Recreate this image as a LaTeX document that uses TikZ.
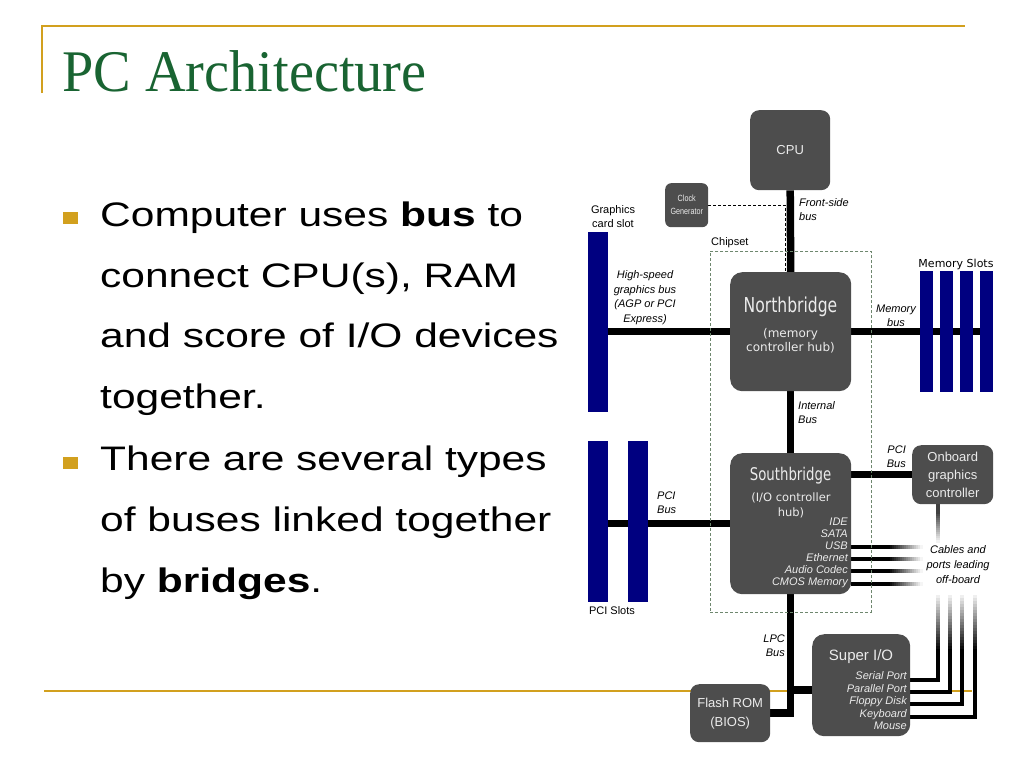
\documentclass[tikz,border=0pt]{standalone}
\usepackage{fontspec}
\setmainfont{Liberation Sans}
\newfontfamily\titlefont{Liberation Serif}[FakeStretch=0.955]
\newfontfamily\bodyfont{Liberation Sans}[FakeStretch=1.25]
\newfontfamily\bridgefont{DejaVu Sans}[FakeStretch=0.76]
\newfontfamily\vera{DejaVu Sans}
\newfontfamily\narrowfont{Liberation Sans}[FakeStretch=0.8]
\usetikzlibrary{positioning,calc,backgrounds}
\definecolor{boxgray}{RGB}{77,77,77}
\definecolor{slotblue}{RGB}{0,0,128}
\definecolor{slidegold}{RGB}{210,160,30}
\definecolor{titlegreen}{RGB}{25,100,50}
\definecolor{chipgreen}{RGB}{110,135,110}

\begin{document}
\begin{tikzpicture}[x=1pt, y=-1pt,
  box/.style={fill=boxgray, rounded corners=9pt, text=white!92!black, inner sep=0pt, anchor=north west, align=center},
  slot/.style={fill=slotblue, inner sep=0pt, anchor=north west},
  bus/.style={line width=7.5pt},
  wire/.style={line width=4pt},
  lbl/.style={font=\fontsize{11}{14}\selectfont\itshape, inner sep=0pt},
  txt/.style={font=\fontsize{11}{14}\selectfont, inner sep=0pt},
  boxtxt/.style={text=white!92!black, inner sep=0pt},
  bodyline/.style={font=\bodyfont\fontsize{34}{40}\selectfont, anchor=base west, inner sep=0pt},
  bullet/.style={fill=slidegold, minimum width=15pt, minimum height=12pt, inner sep=0pt}]
\useasboundingbox (0,0) rectangle (1024,768);

% slide title and text
\node[font=\titlefont\fontsize{59}{60}\selectfont, text=titlegreen, anchor=base west, inner sep=0pt] (title) at (62,91) {PC Architecture};
\node[bullet] (b1) at (70.5,217.5) {};
\node[bullet] (b2) at (70.5,462.5) {};
\node[bodyline] (l1) at (100,226) {Computer uses \textbf{bus} to};
\node[bodyline] (l2) at (100,287) {connect CPU(s), RAM};
\node[bodyline] (l3) at (100,347) {and score of I/O devices};
\node[bodyline] (l4) at (100,408) {together.};
\node[bodyline] (l5) at (100,470) {There are several types};
\node[bodyline] (l6) at (100,531) {of buses linked together};
\node[bodyline] (l7) at (100,592) {by \textbf{bridges}.};

% chips
\node[box, minimum width=80pt, minimum height=80pt, font=\fontsize{13}{15}\selectfont] (cpu) at (750,110) {CPU};
\node[box, rounded corners=6pt, minimum width=43pt, minimum height=44pt, font=\narrowfont\fontsize{9}{13}\selectfont] (clk) at (665,183) {Clock\\Generator};
\node[draw=chipgreen, dash pattern=on 3pt off 2pt, line width=0.8pt, anchor=north west, minimum width=161pt, minimum height=361pt, inner sep=0pt] (chipset) at (710,251) {};
\node[txt, anchor=base west] (chipsetlbl) at (711,245) {Chipset};

\node[box, rounded corners=12pt, minimum width=121pt, minimum height=119pt] (nb) at (730,272) {};
\node[boxtxt, font=\bridgefont\fontsize{20.5}{22}\selectfont, anchor=base] (nbname) at (790.5,312) {Northbridge};
\node[boxtxt, font=\vera\fontsize{12}{14}\selectfont, align=center] (nbsub) at (790.5,341) {(memory\\controller hub)};

\node[box, rounded corners=12pt, minimum width=121pt, minimum height=141pt] (sb) at (730,453) {};
\node[boxtxt, font=\bridgefont\fontsize{17.5}{20}\selectfont, anchor=base] (sbname) at (790.5,480) {Southbridge};
\node[boxtxt, font=\vera\fontsize{11.5}{15}\selectfont, align=center] (sbsub) at (791,505) {(I/O controller\\hub)};
\node[boxtxt, font=\fontsize{11}{12}\selectfont\itshape, align=right, anchor=east] (sbports) at (848,553) {IDE\\SATA\\USB\\Ethernet\\Audio Codec\\CMOS Memory};

\node[box, minimum width=81pt, minimum height=59pt, font=\fontsize{13}{18}\selectfont] (onb) at (912,445) {Onboard\\graphics\\controller};

\node[box, rounded corners=12pt, minimum width=98pt, minimum height=102pt] (sio) at (812,634) {};
\node[boxtxt, font=\fontsize{15}{17}\selectfont, anchor=base] (sioname) at (861,660) {Super I/O};
\node[boxtxt, font=\fontsize{11}{12.5}\selectfont\itshape, align=right, anchor=east] (sioports) at (907,701) {Serial Port\\Parallel Port\\Floppy Disk\\Keyboard\\Mouse};

\node[box, minimum width=80pt, minimum height=58pt, font=\fontsize{13}{19}\selectfont] (flash) at (690,684) {Flash ROM\\(BIOS)};

% slots
\node[slot, minimum width=20pt, minimum height=180pt] (gslot) at (588,232) {};
\foreach \i/\x in {1/588, 2/628}
  \node[slot, minimum width=20pt, minimum height=161pt] (pci\i) at (\x,441) {};
\foreach \i/\x in {1/920, 2/940, 3/960, 4/980}
  \node[slot, minimum width=12.5pt, minimum height=121pt] (mem\i) at (\x,271) {};

% labels
\node[txt, align=center] (gslotlbl) at (613,217) {Graphics\\card slot};
\node[txt] (pcilbl) at (612,611) {PCI Slots};
\node[txt, font=\vera\fontsize{11}{13}\selectfont] (memlbl) at (956,264) {Memory Slots};
\node[lbl, align=left, anchor=west] (fsblbl) at (799,209.5) {Front-side\\bus};
\node[lbl, align=center, font=\fontsize{11}{14.5}\selectfont\itshape] (agplbl) at (645,297.5) {High-speed\\graphics bus\\(AGP or PCI\\Express)};
\node[lbl, align=center] (membuslbl) at (896,315.5) {Memory\\bus};
\node[lbl, align=left, anchor=west] (intlbl) at (798,413) {Internal\\Bus};
\node[lbl, align=left, anchor=west] (pcibuslbl) at (657,502.5) {PCI\\Bus};
\node[lbl, align=right, anchor=east] (pci2lbl) at (906,456.5) {PCI\\Bus};
\node[lbl, align=center, font=\fontsize{11}{15}\selectfont\itshape] (cablelbl) at (958,565) {Cables and\\ports leading\\off-board};
\node[lbl, align=right, anchor=east] (lpclbl) at (785,646) {LPC\\Bus};

% buses and wires
\begin{scope}[on background layer]
  \draw[slidegold, line width=2pt] (42,93) -- (42,26) -- (965,26);
  \draw[slidegold, line width=2pt] (44,691) -- (972,691);

  \draw[bus] (cpu.south) -- (nb.north);
  \draw[dash pattern=on 3pt off 2pt, line width=1pt] (clk.east) -| ([xshift=-5pt]nb.north);
  \draw[bus] (nb.west) -- (nb.west -| gslot.east);
  \draw[bus] (nb.east) -- (nb.east -| mem4.center);
  \draw[bus] (nb.south) -- (sb.north);
  \draw[bus] (sb.west) -- (sb.west -| pci1.center);
  \draw[bus] (sb.east |- onb.west) -- (onb.west);
  \draw[bus] (sb.south) |- (flash.east);
  \coordinate (lpcjoin) at ([yshift=-5pt]sio.west);
  \draw[bus] (lpcjoin -| sb.south) -- (lpcjoin);

  % cables fading out
  \draw[wire, black!75] (onb.south -| 938,0) -- (938,512);
  \foreach \k in {0,...,14} {
    \pgfmathsetmacro\fade{75-5*\k}
    \draw[wire, black!\fade] (938,512+2*\k) -- (938,514.5+2*\k);
  }
  \foreach \y in {547,559,571,584} {
    \draw[wire] (sb.east |- 0,\y) -- (888,\y);
    \foreach \k in {0,...,16} {
      \pgfmathsetmacro\fade{100-6*\k}
      \draw[wire, black!\fade] (888+2*\k,\y) -- (890.5+2*\k,\y);
    }
  }
  \foreach \y/\x in {680/938, 692/950, 704/962, 716.5/975} {
    \draw[wire] (sio.east |- 0,\y) -| (\x,652);
    \foreach \k in {0,...,18} {
      \pgfmathsetmacro\fade{100-5.2*\k}
      \draw[wire, black!\fade] (\x,652-3*\k) -- (\x,649-3*\k-0.5);
    }
  }
\end{scope}
\end{tikzpicture}
\end{document}
